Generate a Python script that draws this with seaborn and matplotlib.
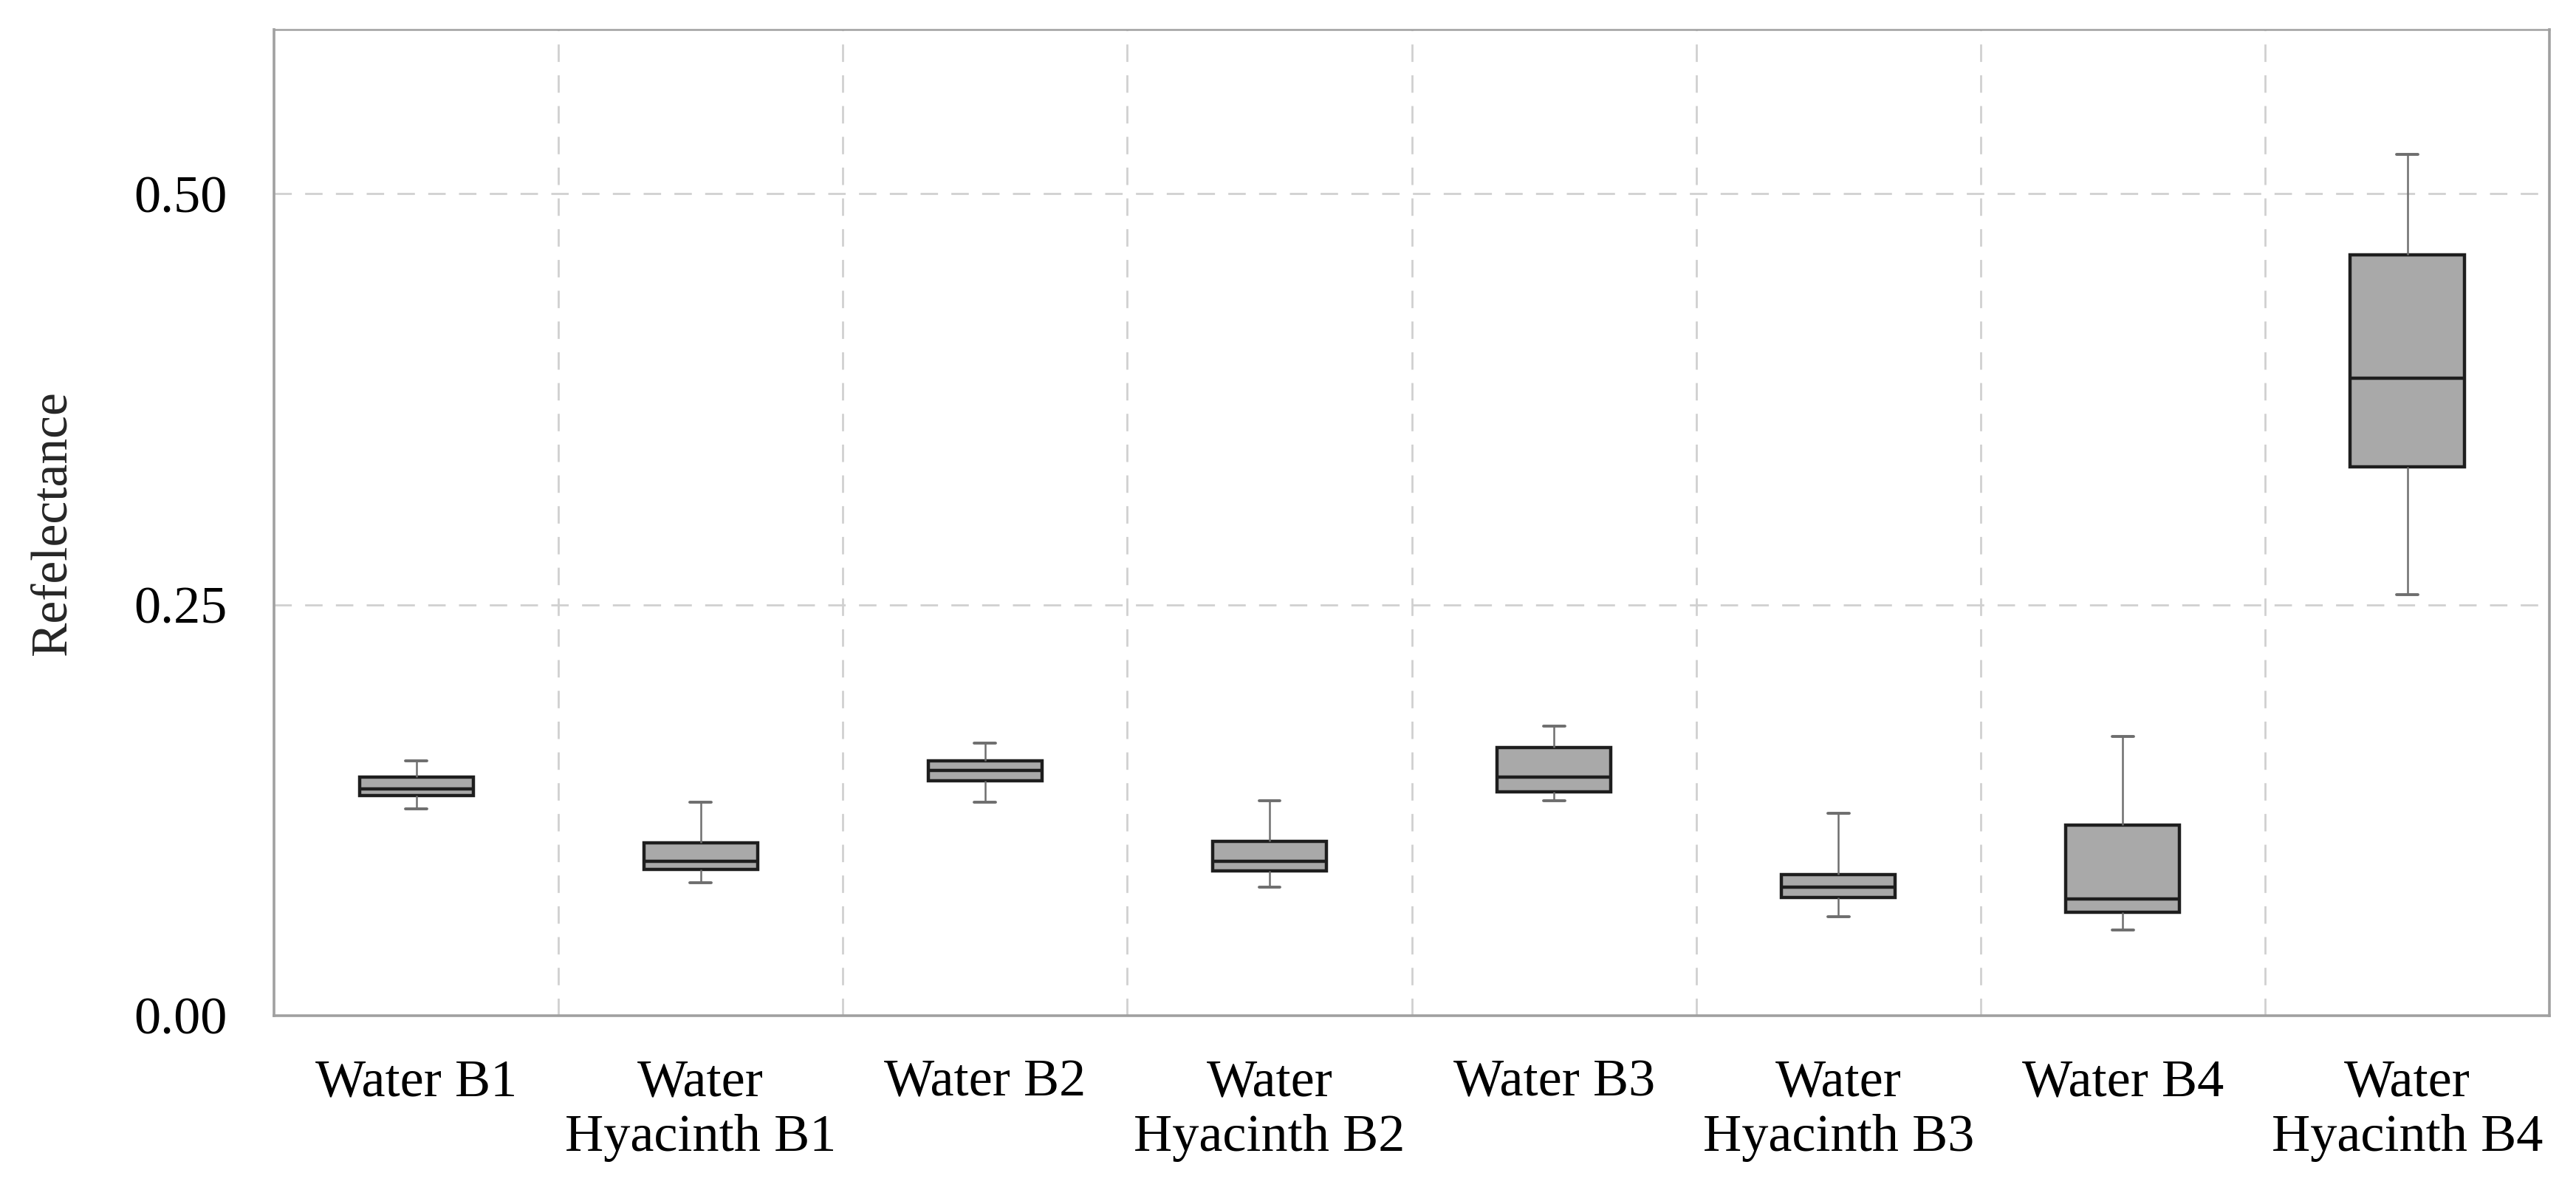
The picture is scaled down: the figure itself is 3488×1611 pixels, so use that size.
import numpy as np
import pandas as pd
import matplotlib
matplotlib.use("Agg")
import matplotlib.pyplot as plt
import seaborn as sns
from matplotlib.ticker import FixedLocator, FormatStrFormatter

categories = ["Water B1", "Water\nHyacinth B1", "Water B2", "Water\nHyacinth B2",
              "Water B3", "Water\nHyacinth B3", "Water B4", "Water\nHyacinth B4"]
whisker_low = [0.126, 0.081, 0.130, 0.078, 0.131, 0.060, 0.052, 0.256]
q1          = [0.134, 0.089, 0.143, 0.088, 0.136, 0.072, 0.063, 0.334]
median      = [0.138, 0.094, 0.149, 0.094, 0.145, 0.078, 0.071, 0.388]
q3          = [0.145, 0.105, 0.155, 0.106, 0.163, 0.086, 0.116, 0.463]
whisker_high = [0.155, 0.130, 0.166, 0.131, 0.176, 0.123, 0.170, 0.524]
y_ticks = [0.00, 0.25, 0.50]
y_label = "Refelectance"

rows = []
for i, c in enumerate(categories):
    for v in (whisker_low[i], q1[i], median[i], q3[i], whisker_high[i]):
        rows.append({"category": c, "value": v})
df = pd.DataFrame(rows)

sns.set_theme(style="white")
plt.rcParams["font.family"] = ["Liberation Serif", "DejaVu Serif"]

fig = plt.figure(figsize=(17.44, 8.055), dpi=200)
ax = fig.add_axes([0.1064, 0.1465, 0.8833, 0.8287])

edge = "#1e1e1e"
sns.boxplot(data=df, x="category", y="value", order=categories, ax=ax,
            whis=(0, 100), width=0.4, color="#a9a9a9", linecolor=edge,
            linewidth=1.5, showfliers=False, capwidths=0.075,
            boxprops=dict(edgecolor=edge, linewidth=1.6, facecolor="#a9a9a9"),
            medianprops=dict(color=edge, linewidth=1.6),
            whiskerprops=dict(color="#6e6e6e", linewidth=0.9),
            capprops=dict(color="#6e6e6e", linewidth=1.4))

ax.set_xlim(-0.5, len(categories) - 0.5)
ax.set_ylim(0, 0.6)
ax.set_yticks(y_ticks)
ax.yaxis.set_major_formatter(FormatStrFormatter("%.2f"))
ax.xaxis.set_minor_locator(FixedLocator(np.arange(0.5, len(categories) - 0.5, 1.0)))

grid_kw = dict(color="#d0d0d0", linewidth=1.0, linestyle=(0, (8.5, 6.5)))
ax.grid(False)
ax.yaxis.grid(True, which="major", **grid_kw)
ax.xaxis.grid(True, which="minor", **grid_kw)
ax.set_axisbelow(True)

ax.tick_params(axis="both", which="both", length=0, labelsize=26, colors="black")
ax.tick_params(axis="x", pad=21)
ax.tick_params(axis="y", pad=23)
ax.set_xlabel("")
ax.set_ylabel(y_label, fontsize=25, labelpad=28)

for name, sp in ax.spines.items():
    sp.set_visible(True)
    sp.set_color("#a0a0a0")
    sp.set_linewidth(1.3)
ax.spines["top"].set_linewidth(0.9)

fig.savefig("out.png", dpi=200, facecolor="white")
